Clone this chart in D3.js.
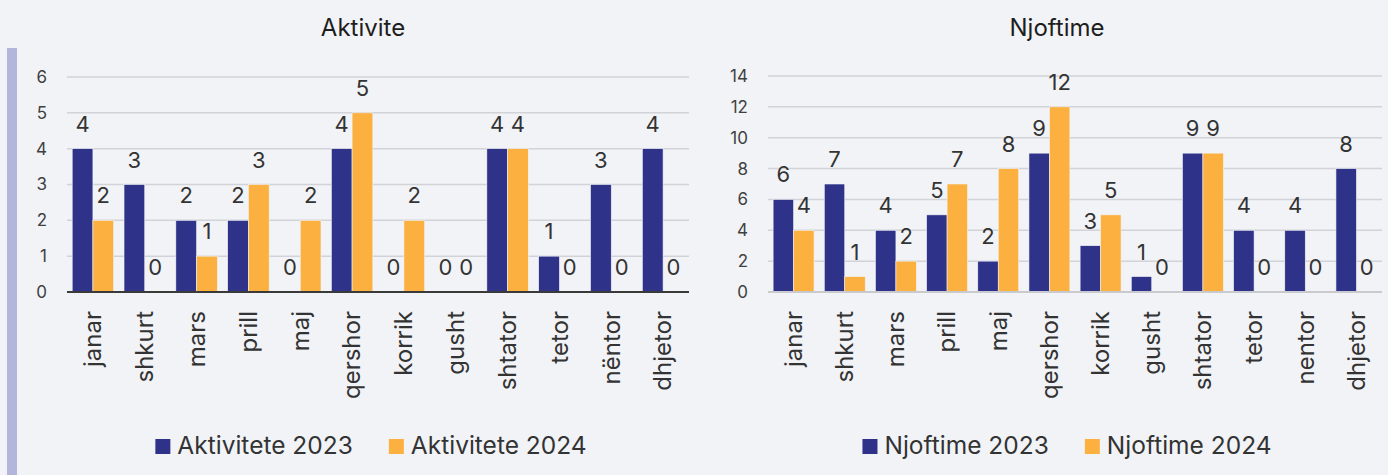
<!DOCTYPE html>
<html lang="sq">
<head>
  <meta charset="utf-8">
  <script src="https://d3js.org/d3.v7.min.js"></script>
  <style>
    body { margin: 0; background: #f2f3f7; }
    svg text { font-family: Inter, "Open Sans", sans-serif; fill: #333; }
  </style>
</head>
<body>
  <script>
    // data
    var monthsA = ["janar", "shkurt", "mars", "prill", "maj", "qershor", "korrik",
                   "gusht", "shtator", "tetor", "nëntor", "dhjetor"];
    var monthsN = ["janar", "shkurt", "mars", "prill", "maj", "qershor", "korrik",
                   "gusht", "shtator", "tetor", "nentor", "dhjetor"];
    var aktivitete2023 = [4, 3, 2, 2, 0, 4, 0, 0, 4, 1, 3, 4];
    var aktivitete2024 = [2, 0, 1, 3, 2, 5, 2, 0, 4, 0, 0, 0];
    var njoftime2023 = [6, 7, 4, 5, 2, 9, 3, 1, 9, 4, 4, 8];
    var njoftime2024 = [4, 1, 2, 7, 8, 12, 5, 0, 9, 0, 0, 0];
    var ticksA = [0, 1, 2, 3, 4, 5, 6];
    var ticksN = [0, 2, 4, 6, 8, 10, 12, 14];

    var colors = ["#2e3289", "#fbb040"];

    var svg = d3.select("body").append("svg")
      .attr("width", 1388)
      .attr("height", 475);

    // accent bar on the left
    svg.append("rect")
      .attr("x", 7).attr("y", 48)
      .attr("width", 10).attr("height", 427)
      .attr("fill", "#b4b5db");

    function drawChart(opt) {
      var g = svg.append("g");

      var x = d3.scaleBand()
        .domain(opt.cats)
        .range([opt.left, opt.right])
        .paddingInner(0.2)
        .paddingOuter(0.1);

      var xs = d3.scaleBand()
        .domain([0, 1])
        .range([0, x.bandwidth()]);

      var y = d3.scaleLinear()
        .domain([0, opt.max])
        .range([292, opt.top]);

      // grid lines
      g.selectAll(".grid")
        .data(opt.ticks.slice(1))
        .enter().append("line")
        .attr("x1", opt.left).attr("x2", opt.right)
        .attr("y1", d => y(d)).attr("y2", d => y(d))
        .attr("stroke", "#d2d3d8")
        .attr("stroke-width", 1.5);

      // y tick labels
      g.selectAll(".ytick")
        .data(opt.ticks)
        .enter().append("text")
        .attr("x", opt.left - 20)
        .attr("y", d => y(d))
        .attr("dy", "0.35em")
        .attr("text-anchor", "end")
        .style("font-size", "17px")
        .style("fill", "#404040")
        .text(d => d);

      // bars
      var rows = opt.cats.map((c, i) => ({ cat: c, vals: [opt.s1[i], opt.s2[i]] }));
      var grp = g.selectAll(".grp")
        .data(rows)
        .enter().append("g")
        .attr("transform", d => "translate(" + x(d.cat) + ",0)");

      grp.selectAll("rect")
        .data(d => d.vals)
        .enter().append("rect")
        .attr("x", (d, i) => xs(i))
        .attr("y", d => y(d))
        .attr("width", xs.bandwidth())
        .attr("height", d => 292 - y(d))
        .attr("fill", (d, i) => colors[i])
        .attr("stroke", "#f2f3f7")
        .attr("stroke-width", 0.6);

      // value labels
      grp.selectAll("text")
        .data(d => d.vals)
        .enter().append("text")
        .attr("x", (d, i) => xs(i) + xs.bandwidth() / 2)
        .attr("y", d => y(d) - 17)
        .attr("text-anchor", "middle")
        .style("font-size", "22px")
        .text(d => d);

      // baseline
      g.append("line")
        .attr("x1", opt.left).attr("x2", opt.right)
        .attr("y1", 292).attr("y2", 292)
        .attr("stroke", opt.baseColor)
        .attr("stroke-width", 2);

      // month labels
      g.selectAll(".xl")
        .data(opt.cats)
        .enter().append("text")
        .attr("transform", d => "translate(" + (x(d) + x.bandwidth() / 2) + ",311) rotate(-90)")
        .attr("dy", "0.35em")
        .attr("text-anchor", "end")
        .style("font-size", "24px")
        .text(d => d);

      // title
      g.append("text")
        .attr("x", opt.titleX)
        .attr("y", 36)
        .attr("text-anchor", "middle")
        .style("font-size", "24px")
        .style("font-weight", 400)
        .style("fill", "#1e1e1e")
        .text(opt.title);

      // legend
      var leg = g.append("g");
      var offset = 0;
      opt.legend.forEach(function(name, i) {
        var item = leg.append("g").attr("transform", "translate(" + offset + ",0)");
        item.append("rect")
          .attr("x", 0).attr("y", 439)
          .attr("width", 15).attr("height", 15)
          .attr("fill", colors[i]);
        var t = item.append("text")
          .attr("x", 22).attr("y", 454)
          .style("font-size", "24.5px")
          .text(name);
        offset += 22 + t.node().getComputedTextLength() + 36;
      });
      var legW = offset - 36;
      leg.attr("transform", "translate(" + (opt.legendCenter - legW / 2) + ",0)");
    }

    drawChart({
      cats: monthsA, s1: aktivitete2023, s2: aktivitete2024,
      left: 67, right: 689, top: 77, max: 6, ticks: ticksA,
      baseColor: "#3a3a3a", title: "Aktivite", titleX: 363,
      legend: ["Aktivitete 2023", "Aktivitete 2024"], legendCenter: 371
    });

    drawChart({
      cats: monthsN, s1: njoftime2023, s2: njoftime2024,
      left: 768, right: 1382, top: 76, max: 14, ticks: ticksN,
      baseColor: "#c9cace", title: "Njoftime", titleX: 1057,
      legend: ["Njoftime 2023", "Njoftime 2024"], legendCenter: 1067
    });
  </script>
</body>
</html>
